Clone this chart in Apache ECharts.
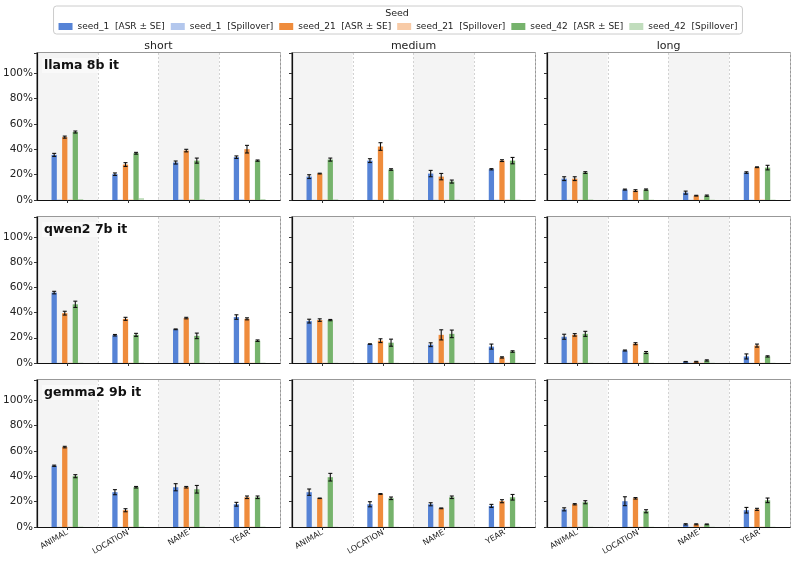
<!DOCTYPE html>
<html>
<head>
<meta charset="utf-8">
<script src="https://cdn.jsdelivr.net/npm/echarts@6/dist/echarts.min.js"></script>
<style>
  html, body { margin: 0; padding: 0; background: #fff; }
  #chart { width: 796px; height: 562px; }
</style>
</head>
<body>
<div id="chart"></div>
<script>
// categories / panels
const categories = ['ANIMAL', 'LOCATION', 'NAME', 'YEAR']
const lengths = ['short', 'medium', 'long']
const models = ['llama 8b it', 'qwen2 7b it', 'gemma2 9b it']
const seeds = ['seed_1', 'seed_21', 'seed_42']

// ASR (%) per model row: short x4 | medium x4 | long x4
const asrSeed1 = [
  [35.5, 20.3, 29.5, 33.7,  18.4, 31.0, 20.8, 24.2,  16.8, 8.2, 5.8, 21.6],
  [55.8, 22.0, 26.7, 36.4,  33.2, 15.0, 14.5, 13.0,  20.8, 9.9, 1.0, 5.2],
  [48.2, 27.4, 31.3, 17.9,  27.4, 17.9, 17.9, 16.6,  13.9, 20.3, 2.1, 13.2]
]
const asrSeed21 = [
  [49.5, 27.9, 38.9, 40.0,  20.8, 42.1, 18.4, 31.0,  16.8, 7.4, 3.4, 25.8],
  [39.5, 35.0, 35.6, 35.0,  34.0, 17.7, 22.3, 4.4,   22.3, 15.3, 1.0, 13.8],
  [62.9, 13.2, 31.3, 23.4,  22.6, 26.0, 14.7, 20.3,  17.9, 22.6, 2.1, 13.9]
]
const asrSeed42 = [
  [53.5, 36.8, 31.0, 31.0,  31.8, 24.0, 14.5, 31.0,  21.6, 8.2, 3.4, 25.5],
  [46.5, 22.3, 21.5, 17.7,  34.0, 16.1, 23.1, 9.1,   23.1, 8.3, 2.0, 5.2],
  [40.0, 31.3, 29.7, 23.4,  39.2, 22.6, 23.4, 23.4,  19.5, 12.4, 2.1, 21.0]
]

// standard errors (%)
const seSeed1 = [
  [1.2, 1.0, 1.2, 1.0,  1.5, 1.5, 2.5, 0.5,  1.5, 0.4, 1.2, 0.6],
  [1.0, 0.6, 0.3, 1.8,  1.5, 0.2, 1.5, 2.0,  2.0, 0.4, 0.2, 2.0],
  [0.5, 2.0, 2.8, 1.5,  2.5, 2.0, 1.2, 1.2,  1.2, 3.5, 0.5, 2.2]
]
const seSeed21 = [
  [0.8, 1.5, 1.0, 3.0,  0.3, 3.0, 2.5, 0.7,  1.5, 0.7, 0.3, 0.3],
  [1.5, 1.2, 0.6, 0.8,  1.0, 1.5, 4.0, 0.5,  1.0, 0.8, 0.3, 1.2],
  [0.6, 1.2, 0.6, 1.0,  0.2, 0.3, 0.3, 1.2,  0.5, 0.6, 0.4, 0.8]
]
const seSeed42 = [
  [0.8, 0.7, 2.0, 0.5,  1.2, 0.6, 1.2, 2.5,  0.7, 0.5, 0.5, 1.8],
  [2.5, 1.2, 2.2, 0.6,  0.5, 2.8, 3.0, 0.6,  2.0, 0.8, 0.5, 0.5],
  [1.2, 0.6, 3.0, 1.0,  3.0, 1.0, 1.0, 2.2,  1.2, 1.2, 0.3, 1.8]
]

// spillover (%)
const spillSeed1 = [
  [0.4, 0.3, 0.4, 0.5,  0.2, 0.2, 0.2, 0.3,  0.2, 0.2, 0.2, 0.2],
  [0.2, 0.2, 0.2, 0.2,  0.2, 0.2, 0.2, 0.2,  0.2, 0.2, 0.2, 0.2],
  [0.2, 0.2, 0.2, 0.2,  0.2, 0.2, 0.2, 0.2,  0.2, 0.2, 0.2, 0.2]
]
const spillSeed21 = [
  [0.4, 0.4, 0.4, 0.3,  0.4, 0.4, 0.3, 0.4,  0.3, 0.3, 0.3, 0.4],
  [0.3, 0.3, 0.3, 0.3,  0.3, 0.3, 0.3, 0.3,  0.3, 0.3, 0.3, 0.3],
  [0.3, 0.3, 0.3, 0.3,  0.3, 0.3, 0.3, 0.3,  0.3, 0.3, 0.3, 0.3]
]
const spillSeed42 = [
  [0.8, 1.5, 0.8, 0.8,  0.6, 0.4, 0.3, 0.3,  0.5, 0.3, 0.3, 0.3],
  [0.3, 0.3, 0.3, 0.3,  0.2, 0.2, 0.2, 0.2,  0.2, 0.2, 0.2, 0.2],
  [0.3, 0.3, 0.3, 0.3,  0.2, 0.2, 0.2, 0.2,  0.2, 0.2, 0.2, 0.2]
]

const asr = [asrSeed1, asrSeed21, asrSeed42]
const se = [seSeed1, seSeed21, seSeed42]
const spill = [spillSeed1, spillSeed21, spillSeed42]

const FONT = 'DejaVu Sans'
const colors = ['#5683d6', '#ef8c3c', '#76b36c']
const spillColors = ['rgba(86,131,214,0.45)', 'rgba(239,140,60,0.45)', 'rgba(118,179,108,0.45)']
const BAR_FRAC = 0.087

const gridLeft = [37, 292, 547]
const gridTop = [53, 217, 380]
const gridH = [147, 146, 147]
const gridW = 243

const asrName = s => seeds[s] + '  [ASR ± SE]'
const spillName = s => seeds[s] + '  [Spillover]'

const hatch = {
  symbol: 'none', dashArrayX: [1, 0], dashArrayY: [1.5, 2.5],
  rotation: -Math.PI / 4, color: 'rgba(255,255,255,0.6)'
}

function renderErr(params, api) {
  const cat = api.value(0)
  const v = api.value(1)
  const e = api.value(2)
  const slot = api.value(3)
  const band = api.size([1, 0])[0]
  const x = api.coord([cat, v])[0] + (slot - 2.5) * band * BAR_FRAC
  const yTop = api.coord([cat, v + e])[1]
  const yBot = api.coord([cat, Math.max(0, v - e)])[1]
  const st = { stroke: '#111', lineWidth: 1.1 }
  return {
    type: 'group',
    children: [
      { type: 'line', shape: { x1: x, y1: yTop, x2: x, y2: yBot }, style: st },
      { type: 'line', shape: { x1: x - 2, y1: yTop, x2: x + 2, y2: yTop }, style: st },
      { type: 'line', shape: { x1: x - 2, y1: yBot, x2: x + 2, y2: yBot }, style: st }
    ]
  }
}

const grids = []
const xAxes = []
const yAxes = []
const series = []
const graphics = []

for (let r = 0; r < 3; r++) {
  for (let c = 0; c < 3; c++) {
    const gi = r * 3 + c
    grids.push({
      left: gridLeft[c], top: gridTop[r], width: gridW, height: gridH[r],
      show: true, borderColor: '#777', borderWidth: 1.5
    })
    xAxes.push({
      type: 'category',
      gridIndex: gi,
      data: categories,
      axisLine: { lineStyle: { color: '#111', width: 1.2 } },
      axisTick: { show: true, alignWithLabel: true, length: 3, lineStyle: { color: '#333' } },
      axisLabel: {
        show: r === 2, rotate: 30, fontSize: 8, color: '#222', fontFamily: FONT, margin: 5
      },
      splitLine: { show: true, lineStyle: { color: '#c8c8c8', type: [2, 2], width: 0.8 } },
      splitArea: { show: true, areaStyle: { color: ['#f4f4f4', '#ffffff'] } }
    })
    yAxes.push({
      type: 'value',
      gridIndex: gi,
      min: 0,
      max: 115.7,
      interval: 20,
      axisLine: { show: true, lineStyle: { color: '#111', width: 1.2 } },
      axisTick: { show: true, length: 3, lineStyle: { color: '#333' } },
      axisLabel: {
        show: c === 0, fontSize: 10.5, color: '#222', fontFamily: FONT, margin: 4,
        formatter: v => (v <= 100 ? v + '%' : '')
      },
      splitLine: { show: true, lineStyle: { color: '#c8c8c8', type: [2, 2], width: 0.8 } }
    })

    const errData = []
    for (let s = 0; s < 3; s++) {
      const vals = asr[s][r].slice(c * 4, c * 4 + 4)
      const errs = se[s][r].slice(c * 4, c * 4 + 4)
      const sp = spill[s][r].slice(c * 4, c * 4 + 4)
      series.push({
        name: asrName(s),
        type: 'bar',
        xAxisIndex: gi,
        yAxisIndex: gi,
        data: vals,
        barWidth: (BAR_FRAC * 100) + '%',
        barGap: '0%',
        itemStyle: { color: colors[s] },
        silent: true
      })
      series.push({
        name: spillName(s),
        type: 'bar',
        xAxisIndex: gi,
        yAxisIndex: gi,
        data: sp,
        barWidth: (BAR_FRAC * 100) + '%',
        barGap: '0%',
        itemStyle: { color: spillColors[s], decal: hatch },
        silent: true
      })
      vals.forEach((v, i) => errData.push([i, v, errs[i], s * 2]))
    }
    series.push({
      type: 'custom',
      xAxisIndex: gi,
      yAxisIndex: gi,
      renderItem: renderErr,
      data: errData,
      z: 10,
      silent: true
    })
  }
}

// column titles
lengths.forEach((t, c) => {
  graphics.push({
    type: 'text',
    x: gridLeft[c] + gridW / 2,
    y: gridTop[0] - 7,
    style: { text: t, fontSize: 11, fontFamily: FONT, fill: '#222', align: 'center', verticalAlign: 'middle' }
  })
})

// row labels
models.forEach((m, r) => {
  graphics.push({
    type: 'text',
    x: gridLeft[0] + 5,
    y: gridTop[r] + 5,
    z: 50,
    style: {
      text: m, fontSize: 12.5, fontWeight: 'bold', fontFamily: FONT, fill: '#111',
      backgroundColor: 'rgba(255,255,255,0.45)', padding: [1, 2, 1, 2]
    }
  })
})

// legend title
graphics.push({
  type: 'text',
  x: 397,
  y: 14,
  style: { text: 'Seed', fontSize: 9.5, fontFamily: FONT, fill: '#222', align: 'center', verticalAlign: 'middle' }
})

const legendData = []
for (let s = 0; s < 3; s++) {
  legendData.push({ name: asrName(s), itemStyle: { color: colors[s] }, textStyle: { color: '#222' } })
  legendData.push({ name: spillName(s), itemStyle: { color: spillColors[s], decal: hatch }, textStyle: { color: '#222' } })
}

const option = {
  animation: false,
  backgroundColor: '#fff',
  textStyle: { fontFamily: FONT },
  legend: {
    data: legendData,
    left: 'center',
    top: 6,
    padding: [16, 5, 3, 5],
    borderColor: '#ccc',
    borderWidth: 1,
    borderRadius: 3,
    icon: 'rect',
    itemWidth: 14,
    itemHeight: 7,
    itemGap: 6,
    textStyle: { fontSize: 9, color: '#222', fontFamily: FONT }
  },
  grid: grids,
  xAxis: xAxes,
  yAxis: yAxes,
  series: series,
  graphic: graphics
}

const chart = echarts.init(document.getElementById('chart'))
chart.setOption(option)
window.addEventListener('resize', () => chart.resize())
</script>
</body>
</html>
